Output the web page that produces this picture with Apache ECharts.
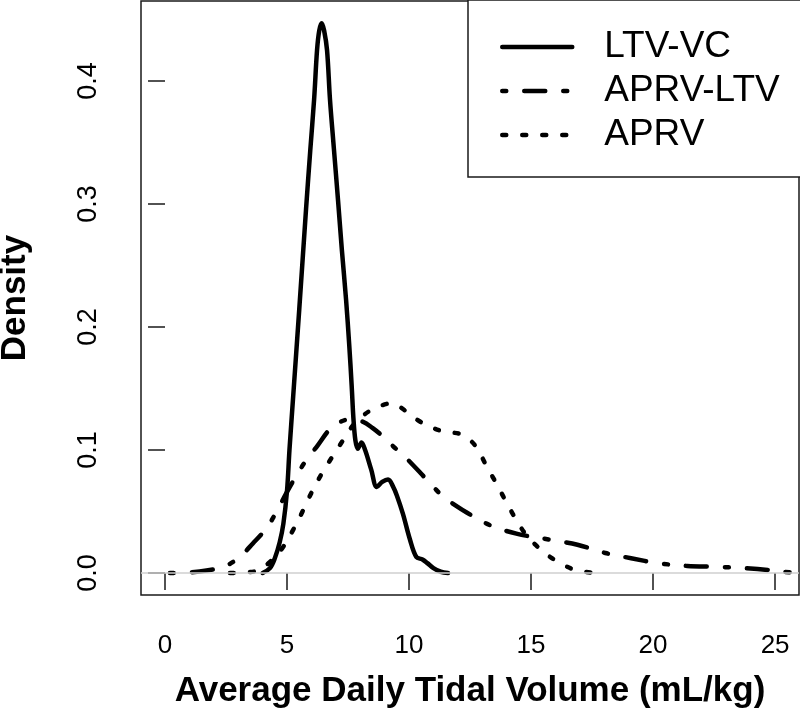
<!DOCTYPE html>
<html>
<head>
<meta charset="utf-8">
<script src="https://cdn.jsdelivr.net/npm/echarts@6/dist/echarts.min.js"></script>
<style>
html,body{margin:0;padding:0;background:#fff;}
#chart{width:800px;height:717px;}
</style>
</head>
<body>
<div id="chart"></div>
<script>
// x ticks and y ticks
const xTicks = [0, 5, 10, 15, 20, 25];
const yTicks = [0, 0.1, 0.2, 0.3, 0.4];

// LTV-VC density [x, density]
const ltvVC = [
  [4.0,0],[4.3,0.004],[4.5,0.012],[4.7,0.025],[4.85,0.04],[5.0,0.067],[5.1,0.1],[5.25,0.143],
  [5.5,0.214],[5.78,0.296],[5.95,0.343],[6.11,0.385],
  [6.23,0.425],[6.32,0.441],[6.42,0.447],[6.52,0.441],[6.64,0.425],[6.76,0.385],[6.92,0.345],
  [7.09,0.303],[7.25,0.262],[7.42,0.222],[7.55,0.185],[7.65,0.152],[7.72,0.126],[7.8,0.108],
  [7.9,0.101],[8.05,0.106],[8.2,0.1],[8.45,0.084],[8.68,0.07],[8.9,0.074],[9.14,0.076],
  [9.35,0.07],[9.5,0.063],[9.75,0.048],[10.04,0.027],[10.3,0.013],[10.55,0.011],[10.75,0.008],
  [11.0,0.004],[11.3,0.001],[11.6,0]
];

// APRV-LTV density
const aprvLTV = [
  [0.2,0],[1.0,0.0005],[1.7,0.002],[2.4,0.005],[3.0,0.012],[3.6,0.024],[4.18,0.037],[4.6,0.051],
  [5.0,0.066],[5.41,0.080],[5.8,0.092],[6.23,0.103],[6.76,0.117],[7.2,0.123],[7.6,0.125],
  [8.1,0.123],[8.5,0.118],[8.93,0.111],[9.35,0.103],[9.75,0.096],[10.15,0.088],[10.53,0.080],
  [11.0,0.070],[11.4,0.062],[11.9,0.055],[12.38,0.049],[13.3,0.039],[14.4,0.032],[15.8,0.027],
  [16.9,0.023],[18.1,0.016],[19.1,0.012],[20.2,0.008],[21.4,0.0057],[22.6,0.005],[23.7,0.004],
  [24.7,0.0025],[25.3,0.001],[26.0,0]
];

// APRV density
const aprv = [
  [2.66,0],[3.3,0.0005],[3.8,0.002],[4.3,0.009],[4.8,0.02],[5.25,0.035],[5.66,0.051],[6.02,0.066],
  [6.43,0.081],[6.84,0.094],[7.3,0.108],[7.79,0.122],[8.48,0.133],[9.0,0.137],[9.3,0.138],
  [9.84,0.132],[10.3,0.125],[10.74,0.12],[11.4,0.115],[12.1,0.113],[12.5,0.108],[12.8,0.101],
  [13.2,0.086],[13.6,0.072],[14.0,0.057],[14.4,0.043],[14.8,0.031],[15.4,0.019],[16.1,0.009],
  [16.9,0.002],[17.8,0]
];

const seriesNames = ['LTV-VC', 'APRV-LTV', 'APRV'];
const xTitle = 'Average Daily Tidal Volume (mL/kg)';
const yTitle = 'Density';

const FONT = "'Liberation Sans', Arial, Helvetica, sans-serif";
const chart = echarts.init(document.getElementById('chart'), null, {renderer: 'canvas'});

function lineSeries(name, data, dash) {
  return {
    name: name,
    type: 'line',
    data: data,
    smooth: 0.35,
    symbol: 'none',
    silent: true,
    lineStyle: {color: '#000', width: 4.5, type: dash, cap: 'round', join: 'round'},
    itemStyle: {color: '#000'},
    emphasis: {disabled: true}
  };
}

const option = {
  animation: false,
  backgroundColor: '#fff',
  textStyle: {fontFamily: FONT},
  grid: {
    left: 141, right: 1, top: 1, bottom: 122,
    show: true, borderColor: '#1a1a1a', borderWidth: 1.5, backgroundColor: 'transparent',
    containLabel: false, outerBoundsMode: 'none'
  },
  legend: {
    show: true,
    orient: 'vertical',
    left: 468, top: 0,
    padding: [25, 60, 20, 32],
    itemGap: 0,
    itemWidth: 70,
    itemHeight: 44,
    borderColor: '#1a1a1a', borderWidth: 1.5,
    backgroundColor: '#fff',
    selectedMode: false,
    data: seriesNames,
    textStyle: {fontFamily: FONT, fontSize: 37, color: '#000', lineHeight: 44, padding: [0, 0, 0, 27]},
    itemStyle: {opacity: 0, borderWidth: 0},
    lineStyle: {width: 4.5, cap: 'round', opacity: 1, color: '#000'}
  },
  xAxis: {
    type: 'value',
    min: -0.984, max: 25.98,
    name: xTitle,
    nameLocation: 'middle',
    nameGap: 79,
    nameTextStyle: {fontFamily: FONT, fontSize: 35, fontWeight: 'bold', color: '#000'},
    axisLine: {show: false},
    axisTick: {show: true, inside: false, length: 17, customValues: xTicks, lineStyle: {color: '#1a1a1a', width: 1.5}},
    axisLabel: {show: true, customValues: xTicks, margin: 38, fontSize: 26, color: '#000', fontFamily: FONT,
      formatter: v => String(v)},
    splitLine: {show: false}
  },
  yAxis: {
    type: 'value',
    min: -0.0179, max: 0.465,
    name: yTitle,
    nameLocation: 'middle',
    nameGap: 108,
    nameTextStyle: {fontFamily: FONT, fontSize: 35, fontWeight: 'bold', color: '#000'},
    axisLine: {show: false},
    axisTick: {show: true, inside: false, length: 17, customValues: yTicks, lineStyle: {color: '#1a1a1a', width: 1.5}},
    axisLabel: {show: true, customValues: yTicks, margin: 39, rotate: 90, fontSize: 27, color: '#000', fontFamily: FONT,
      formatter: v => v.toFixed(1)},
    splitLine: {show: false}
  },
  series: [
    Object.assign(lineSeries(seriesNames[0], ltvVC, 'solid'), {
      markLine: {
        silent: true, symbol: 'none', label: {show: false},
        lineStyle: {color: '#cfcfcf', width: 1.5, type: 'solid'},
        emphasis: {disabled: true},
        data: [{yAxis: 0}]
      }
    }),
    lineSeries(seriesNames[1], aprvLTV, [4, 18, 21, 18]),
    lineSeries(seriesNames[2], aprv, [4, 16])
  ]
};
chart.setOption(option);
</script>
</body>
</html>
